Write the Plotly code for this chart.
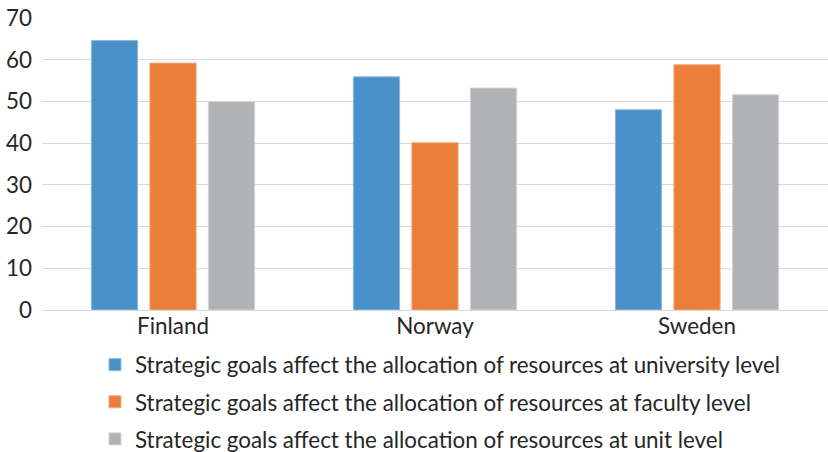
import plotly.graph_objects as go

countries = ["Finland", "Norway", "Sweden"]
series_names = [
    "Strategic goals affect the allocation of resources at university level",
    "Strategic goals affect the allocation of resources at faculty level",
    "Strategic goals affect the allocation of resources at unit level",
]
university_level = [64.6, 55.9, 48.0]
faculty_level = [59.2, 40.1, 58.8]
unit_level = [49.9, 53.2, 51.6]
y_ticks = [0, 10, 20, 30, 40, 50, 60, 70]

colors = ["#4A90C9", "#EC7E3B", "#B1B2B5"]
edges = ["#8DB9E2", "#F4AA80", "#D2D3D5"]
values = [university_level, faculty_level, unit_level]

fig = go.Figure()
for i, (name, vals) in enumerate(zip(series_names, values)):
    fig.add_trace(go.Bar(
        x=countries, y=vals, name=name,
        marker=dict(color=colors[i], line=dict(color=edges[i], width=1)),
        legendgroup=f"g{i}",
    ))

font_family = "Lato, 'Open Sans', sans-serif"
fs = 22.4
fig.update_layout(
    width=828, height=452,
    margin=dict(l=42, r=0, t=18, b=142, autoexpand=False),
    paper_bgcolor="white", plot_bgcolor="white",
    barmode="group", bargap=0.33, bargroupgap=0.21,
    font=dict(family=font_family, size=fs, color="#262626"),
    showlegend=True,
    legend=dict(
        orientation="v", x=0.0674, xanchor="left", y=-0.115, yanchor="top",
        font=dict(size=fs, color="#262626"), tracegroupgap=5,
        itemclick=False, bgcolor="rgba(0,0,0,0)",
    ),
    xaxis=dict(showgrid=False, showline=True, linecolor="#D9D9D9", linewidth=1,
               ticks="", tickfont=dict(size=fs, color="#262626"), automargin=False,
               ticklabelstandoff=-4),
    yaxis=dict(range=[0, 70], tickvals=y_ticks, showgrid=True, gridcolor="#D9D9D9",
               gridwidth=1, zeroline=False, showline=False, ticks="",
               tickfont=dict(size=fs, color="#262626"), ticklabelstandoff=9,
               ticklabeloverflow="allow", automargin=False),
)

fig.write_html(
    "out.html",
    config={"displayModeBar": False},
    post_script="document.body.style.margin='0';document.body.style.overflow='hidden';",
)
